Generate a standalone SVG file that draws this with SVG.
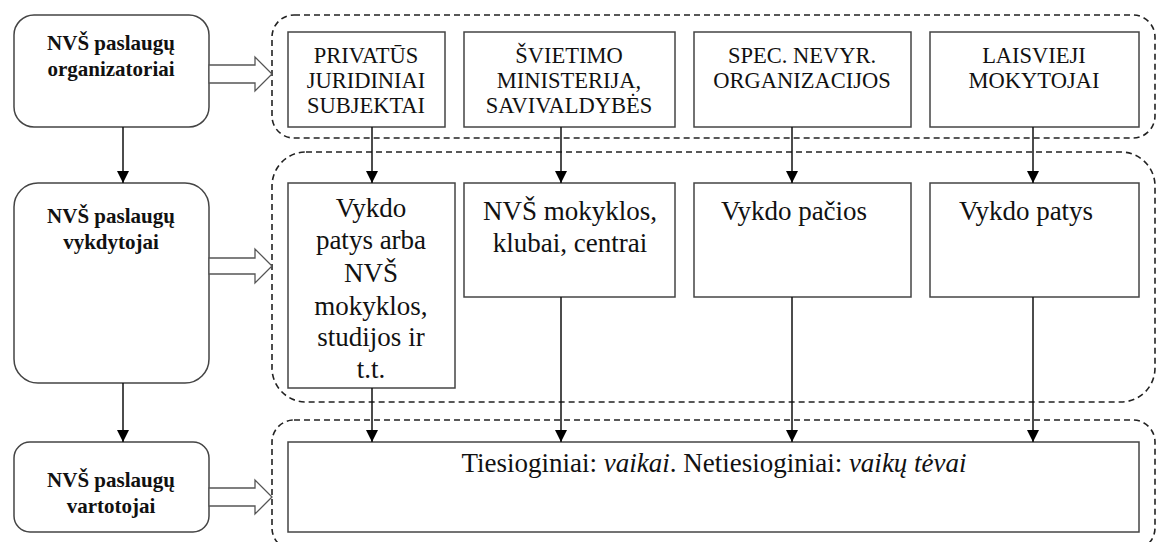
<svg xmlns="http://www.w3.org/2000/svg" width="1158" height="542" viewBox="0 0 1158 542">
<style>
.bg{fill:#fff}
.lbox{fill:#fff;stroke:#444;stroke-width:1.5}
.box{fill:#fff;stroke:#444;stroke-width:1.5}
.dash{fill:none;stroke:#222;stroke-width:1.6;stroke-dasharray:6 4}
.hol{fill:#fff;stroke:#555;stroke-width:1.3}
.con{stroke:#111;stroke-width:1.5;fill:none}
text{font-family:'Liberation Serif','Times New Roman',Tinos,'Noto Serif','DejaVu Serif',serif;fill:#111;text-anchor:middle}
.lt{font-weight:bold;font-size:21px}
.ut{font-size:22.5px}
.mt{font-size:27px}
</style>
<defs>
<marker id="ah" markerWidth="12" markerHeight="12" viewBox="0 0 12 12" refX="12" refY="6" orient="auto" markerUnits="userSpaceOnUse">
<path d="M0,0 L12,6 L0,12 Z" fill="#000"/>
</marker>
</defs>
<rect class="bg" x="0" y="0" width="1158" height="542"/>

<g id="containers">
<rect class="dash" x="272" y="15" width="883" height="123" rx="22"/>
<rect class="dash" x="272" y="152" width="883" height="250" rx="34"/>
<rect class="dash" x="272" y="420" width="883" height="130" rx="22"/>
</g>

<g id="left-organizatoriai">
<rect class="lbox" x="14" y="15" width="195" height="112" rx="20"/>
<text class="lt" x="111" y="50">NVŠ paslaugų</text>
<text class="lt" x="111" y="76">organizatoriai</text>
</g>
<g id="left-vykdytojai">
<rect class="lbox" x="14" y="183" width="195" height="200" rx="24"/>
<text class="lt" x="111" y="223">NVŠ paslaugų</text>
<text class="lt" x="111" y="249">vykdytojai</text>
</g>
<g id="left-vartotojai">
<rect class="lbox" x="14" y="442" width="195" height="90" rx="16"/>
<text class="lt" x="111" y="487">NVŠ paslaugų</text>
<text class="lt" x="111" y="513">vartotojai</text>
</g>

<g id="top-privatus">
<rect class="box" x="288" y="32" width="157" height="95"/>
<text class="ut" x="366" y="63">PRIVATŪS</text>
<text class="ut" x="366" y="88">JURIDINIAI</text>
<text class="ut" x="366" y="113">SUBJEKTAI</text>
</g>
<g id="top-svietimo">
<rect class="box" x="464" y="32" width="211" height="95"/>
<text class="ut" x="569" y="63">ŠVIETIMO</text>
<text class="ut" x="569" y="88">MINISTERIJA,</text>
<text class="ut" x="569" y="113">SAVIVALDYBĖS</text>
</g>
<g id="top-spec">
<rect class="box" x="694" y="32" width="217" height="95"/>
<text class="ut" x="802" y="63">SPEC. NEVYR.</text>
<text class="ut" x="802" y="88">ORGANIZACIJOS</text>
</g>
<g id="top-laisvieji">
<rect class="box" x="930" y="32" width="209" height="95"/>
<text class="ut" x="1034" y="63">LAISVIEJI</text>
<text class="ut" x="1034" y="88">MOKYTOJAI</text>
</g>

<g id="mid-vykdo-patys-arba">
<rect class="box" x="288" y="183" width="167" height="205"/>
<text class="mt" x="371" y="217">Vykdo</text>
<text class="mt" x="371" y="249">patys arba</text>
<text class="mt" x="371" y="282">NVŠ</text>
<text class="mt" x="371" y="315">mokyklos,</text>
<text class="mt" x="371" y="346">studijos ir</text>
<text class="mt" x="371" y="378">t.t.</text>
</g>
<g id="mid-mokyklos">
<rect class="box" x="464" y="183" width="211" height="114"/>
<text class="mt" x="570" y="220">NVŠ mokyklos,</text>
<text class="mt" x="570" y="252">klubai, centrai</text>
</g>
<g id="mid-pacios">
<rect class="box" x="694" y="183" width="217" height="114"/>
<text class="mt" x="794" y="220">Vykdo pačios</text>
</g>
<g id="mid-patys">
<rect class="box" x="930" y="183" width="209" height="114"/>
<text class="mt" x="1026" y="220">Vykdo patys</text>
</g>

<g id="bottom-vartotojai">
<rect class="box" x="288" y="442" width="851" height="90"/>
<text class="mt" x="714" y="472">Tiesioginiai: <tspan font-style="italic">vaikai</tspan>. Netiesioginiai: <tspan font-style="italic">vaikų tėvai</tspan></text>
</g>

<g id="connectors">
<polygon class="hol" points="209,65 255,65 255,57 272,74 255,91 255,83 209,83"/>
<polygon class="hol" points="209,258 255,258 255,249 272,266 255,283 255,274 209,274"/>
<polygon class="hol" points="209,488 255,488 255,480 272,497 255,514 255,506 209,506"/>
<line class="con" x1="123" y1="127" x2="123" y2="183" marker-end="url(#ah)"/>
<line class="con" x1="123" y1="383" x2="123" y2="442" marker-end="url(#ah)"/>
<line class="con" x1="372" y1="127" x2="372" y2="183" marker-end="url(#ah)"/>
<line class="con" x1="561" y1="127" x2="561" y2="183" marker-end="url(#ah)"/>
<line class="con" x1="792" y1="127" x2="792" y2="183" marker-end="url(#ah)"/>
<line class="con" x1="1033" y1="127" x2="1033" y2="183" marker-end="url(#ah)"/>
<line class="con" x1="372" y1="388" x2="372" y2="442" marker-end="url(#ah)"/>
<line class="con" x1="561" y1="297" x2="561" y2="442" marker-end="url(#ah)"/>
<line class="con" x1="792" y1="297" x2="792" y2="442" marker-end="url(#ah)"/>
<line class="con" x1="1033" y1="297" x2="1033" y2="442" marker-end="url(#ah)"/>
</g>
</svg>
